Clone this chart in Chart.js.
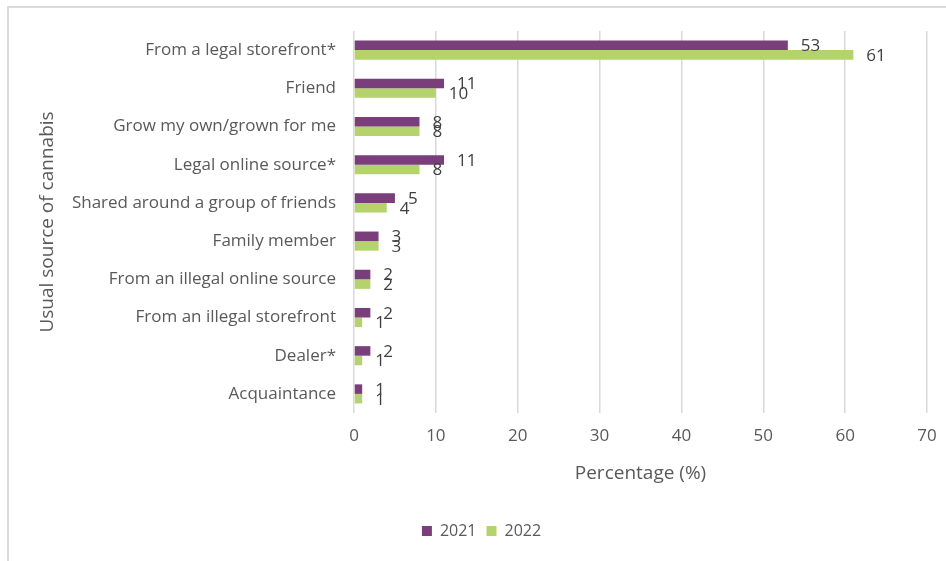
<!DOCTYPE html>
<html>
<head>
<meta charset="utf-8">
<script src="https://cdn.jsdelivr.net/npm/chart.js@4/dist/chart.umd.min.js"></script>
<style>
  html, body { margin: 0; padding: 0; background: #fff; }
  #wrap { position: relative; width: 946px; height: 561px; overflow: hidden; }
  #frame { position: absolute; left: 7px; top: 6px; width: 960px; height: 580px;
           border-top: 2px solid #d9d9d9; border-left: 2px solid #d9d9d9; }
  canvas { position: absolute; left: 0; top: 0; }
</style>
</head>
<body>
<div id="wrap">
  <div id="frame"></div>
  <canvas id="chart" width="946" height="561"></canvas>
</div>
<script>
// categories, top to bottom
const sources = [
    'From a legal storefront*',
    'Friend',
    'Grow my own/grown for me',
    'Legal online source*',
    'Shared around a group of friends',
    'Family member',
    'From an illegal online source',
    'From an illegal storefront',
    'Dealer*',
    'Acquaintance'
];
const values2021 = [53, 11, 8, 11, 5, 3, 2, 2, 2, 1];
const values2022 = [61, 10, 8, 8, 4, 3, 2, 1, 1, 1];
const xTicks = [0, 10, 20, 30, 40, 50, 60, 70];

const textColor = '#595959';
const fontFamily = '"Open Sans", Lato, sans-serif';

// draws the value next to the end of each bar
const barLabels = {
    id: 'barLabels',
    afterDatasetsDraw(chart) {
        const ctx = chart.ctx;
        ctx.save();
        ctx.font = '17px ' + fontFamily;
        ctx.fillStyle = '#404040';
        ctx.textAlign = 'left';
        ctx.textBaseline = 'middle';
        chart.data.datasets.forEach((ds, i) => {
            chart.getDatasetMeta(i).data.forEach((bar, j) => {
                ctx.fillText(ds.data[j], bar.x + 13, bar.y + 1);
            });
        });
        ctx.restore();
    }
};

new Chart(document.getElementById('chart').getContext('2d'), {
    type: 'bar',
    data: {
        labels: sources,
        datasets: [
            { label: '2021', data: values2021, backgroundColor: '#7a3f7a' },
            { label: '2022', data: values2022, backgroundColor: '#b4d36c' }
        ]
    },
    options: {
        indexAxis: 'y',
        responsive: false,
        animation: false,
        layout: { padding: { top: 31, right: 19, bottom: 12, left: 36 } },
        datasets: { bar: { barPercentage: 1, categoryPercentage: 0.5 } },
        scales: {
            y: {
                grid: { display: false, drawTicks: false, tickLength: 0 },
                border: { display: false },
                ticks: { color: textColor, font: { family: fontFamily, size: 17 }, padding: 18 },
                title: {
                    display: true,
                    text: 'Usual source of cannabis',
                    color: textColor,
                    font: { family: fontFamily, size: 19 },
                    padding: { top: 0, bottom: 0 }
                },
                afterFit(scale) { scale.width = 318; }
            },
            x: {
                min: 0,
                max: 70,
                afterBuildTicks(scale) { scale.ticks = xTicks.map(v => ({ value: v })); },
                grid: { color: '#d9d9d9', lineWidth: 1.5, drawTicks: false, tickLength: 0 },
                border: { display: false },
                ticks: { color: textColor, font: { family: fontFamily, size: 17 }, padding: 13 },
                title: {
                    display: true,
                    text: 'Percentage (%)',
                    color: textColor,
                    font: { family: fontFamily, size: 19 },
                    padding: { top: 0, bottom: 28 }
                },
                afterFit(scale) {
                    scale.height = 100;
                    scale.paddingLeft = 0;
                    scale.paddingRight = 0;
                }
            }
        },
        plugins: {
            legend: {
                position: 'bottom',
                labels: {
                    color: textColor,
                    font: { family: fontFamily, size: 16 },
                    boxWidth: 10,
                    boxHeight: 10,
                    padding: 10
                }
            },
            tooltip: { enabled: false }
        }
    },
    plugins: [barLabels]
});
</script>
</body>
</html>
